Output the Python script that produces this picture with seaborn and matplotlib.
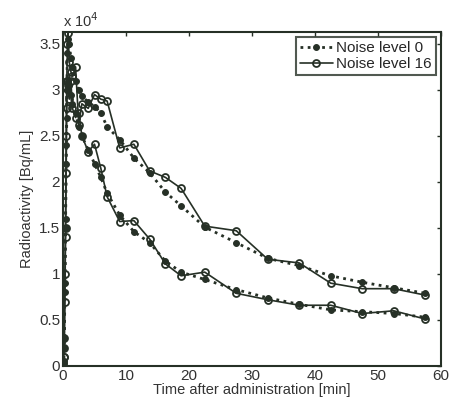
import numpy as np
import pandas as pd
import seaborn as sns
import matplotlib
matplotlib.use("Agg")
import matplotlib.pyplot as plt
from matplotlib.ticker import FuncFormatter

# %% data (values in units of 1e4 Bq/mL)
time_min = [0, 0.1, 0.2, 0.3, 0.4, 0.5, 0.6, 0.7, 0.8, 1.0, 1.25, 1.5, 2.0, 2.5, 3.0,
            4.0, 5.0, 6.0, 7.0, 9.0, 11.25, 13.75, 16.25, 18.75, 22.5, 27.5, 32.5,
            37.5, 42.5, 47.5, 52.5, 57.5]

upper_noise0 = [0, 0.05, 0.3, 0.9, 1.6, 2.4, 3.0, 3.4, 3.55, 3.5, 3.35, 3.25, 3.1, 3.0, 2.93,
                2.87, 2.82, 2.75, 2.6, 2.46, 2.26, 2.1, 1.89, 1.74, 1.51, 1.34, 1.17,
                1.09, 0.98, 0.91, 0.85, 0.79]
upper_noise16 = [0, 0.1, 0.2, 1.0, 1.5, 2.5, 3.1, 3.5, 3.62, 3.3, 3.2, 3.15, 3.25, 2.62, 2.85,
                 2.8, 2.95, 2.9, 2.88, 2.37, 2.41, 2.12, 2.05, 1.93, 1.52, 1.47, 1.16,
                 1.12, 0.9, 0.84, 0.84, 0.77]
lower_noise0 = [0, 0.03, 0.2, 0.8, 1.5, 2.2, 2.7, 3.0, 3.1, 3.05, 2.95, 2.85, 2.75, 2.6, 2.5,
                2.35, 2.2, 2.05, 1.88, 1.64, 1.46, 1.34, 1.14, 1.02, 0.94, 0.83, 0.74,
                0.67, 0.61, 0.59, 0.57, 0.53]
lower_noise16 = [0, 0.1, 0.3, 0.7, 1.4, 2.1, 2.8, 3.1, 3.05, 2.9, 3.1, 2.8, 2.7, 2.75, 2.5,
                 2.33, 2.41, 2.15, 1.84, 1.57, 1.58, 1.38, 1.11, 0.98, 1.02, 0.79, 0.72,
                 0.66, 0.66, 0.57, 0.60, 0.51]

labels = ["Noise level 0", "Noise level 16"]
scale = 1e4

# %% plot
sns.set_style("white")
plt.rcParams["font.family"] = ["Liberation Sans", "DejaVu Sans"]
ink = "#263026"

fig = plt.figure(figsize=(4.5, 4.08), dpi=100)
ax = fig.add_axes([0.14, 0.103, 0.84, 0.8186])

for y0, y16 in [(upper_noise0, upper_noise16), (lower_noise0, lower_noise16)]:
    sns.lineplot(x=time_min, y=np.array(y0) * scale, ax=ax, color=ink, linestyle=(0, (1, 1.6)),
                 linewidth=2.0, marker="o", markersize=4.2, markerfacecolor=ink,
                 markeredgecolor=ink, sort=False)
    sns.lineplot(x=time_min, y=np.array(y16) * scale, ax=ax, color=ink, linestyle="-",
                 linewidth=1.2, marker="o", markersize=5, markerfacecolor="none",
                 markeredgecolor=ink, markeredgewidth=1.3, sort=False)

lines = ax.get_lines()
leg = ax.legend([lines[0], lines[1]], labels, loc="upper right", fontsize=11,
                frameon=True, fancybox=False, borderpad=0.25, handlelength=2.2,
                handletextpad=0.2, labelspacing=0.15, borderaxespad=0.35)
leg.get_frame().set_edgecolor(ink)
leg.get_frame().set_linewidth(1.5)

ax.set_xlim(0, 60)
ax.set_ylim(0, 3.63 * scale)
ax.set_xticks(range(0, 61, 10))
ax.set_yticks(np.arange(0, 3.51, 0.5) * scale)
ax.yaxis.set_major_formatter(FuncFormatter(lambda v, p: f"{v / scale:g}"))
ax.tick_params(direction="in", length=3, width=1, top=True, right=True,
               labelsize=11, colors=ink, labelcolor="#333333", pad=2)
for s in ax.spines.values():
    s.set_color(ink)
    s.set_linewidth(1.5)

ax.set_xlabel("Time after administration [min]", fontsize=10.5, color="#333333", labelpad=0)
ax.set_ylabel("Radioactivity [Bq/mL]", fontsize=10.5, color="#333333", labelpad=4)
ax.text(0.0, 1.005, "x 10$^4$", transform=ax.transAxes, fontsize=10.5,
        color="#333333", ha="left", va="bottom")

fig.savefig("out.png", dpi=100)
